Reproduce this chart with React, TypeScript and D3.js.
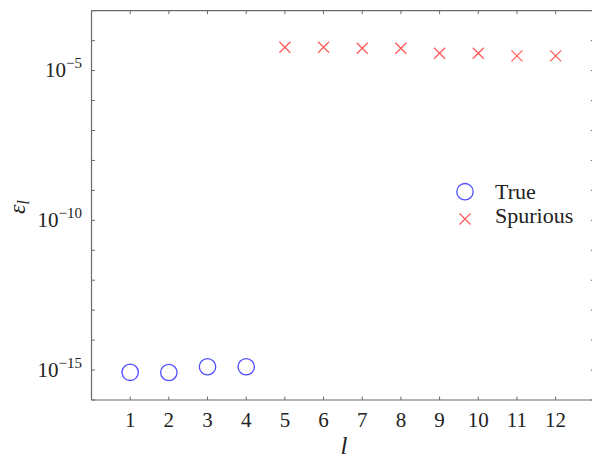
import React from "react";
import * as d3 from "d3";

const trueL = [1, 2, 3, 4];
const trueEps = [8.4e-16, 8.3e-16, 1.29e-15, 1.29e-15];
const spurL = [5, 6, 7, 8, 9, 10, 11, 12];
const spurEps = [6.0e-5, 6.0e-5, 5.6e-5, 5.6e-5, 3.8e-5, 3.8e-5, 3.1e-5, 3.1e-5];
const xTicks = [1, 2, 3, 4, 5, 6, 7, 8, 9, 10, 11, 12];
const yLabelExps = [-5, -10, -15];
const legendLabels = ["True", "Spurious"];

const W = 592, H = 458;
const left = 91.5, right = 594.3, top = 10.7, bottom = 400;
const FONT = "'Liberation Serif', 'DejaVu Serif', serif";
const AX = "#6a6a6a";
const BLUE = "#4d4dff";
const RED = "#ff5a5a";

export default function App() {
  const x = d3.scaleLinear().domain([0, 13]).range([left, right]);
  const y = d3.scaleLog().domain([1e-16, 1e-3]).range([bottom, top]);
  const decades = d3.range(-16, -2).map((e) => Math.pow(10, e));
  const tl = 3.5;
  const cross = (cx: number, cy: number, s: number, key: string) => (
    <g key={key} stroke={RED} strokeWidth={1.3}>
      <line x1={cx - s} y1={cy - s} x2={cx + s} y2={cy + s} />
      <line x1={cx - s} y1={cy + s} x2={cx + s} y2={cy - s} />
    </g>
  );
  return (
    <svg width={W} height={H} style={{ position: "absolute", left: 0, top: 0, background: "#fff" }} fontFamily={FONT}>
      <rect x={0} y={0} width={W} height={H} fill="#fff" />
      <g stroke={AX} strokeWidth={1.2} fill="none">
        <line x1={left} y1={top} x2={left} y2={bottom} />
        <line x1={left} y1={bottom} x2={right} y2={bottom} />
        <line x1={left} y1={top} x2={right} y2={top} />
        <line x1={right} y1={top} x2={right} y2={bottom} />
      </g>
      <g stroke={AX} strokeWidth={1}>
        {xTicks.map((t) => (
          <g key={"xt" + t}>
            <line x1={x(t)} x2={x(t)} y1={bottom} y2={bottom - tl} />
            <line x1={x(t)} x2={x(t)} y1={top} y2={top + tl} />
          </g>
        ))}
        {decades.map((d, i) => (
          <g key={"yt" + i}>
            <line x1={left} x2={left + tl} y1={y(d)} y2={y(d)} />
            <line x1={right} x2={right - tl} y1={y(d)} y2={y(d)} />
          </g>
        ))}
      </g>
      <g fontSize={21} fill="#222" textAnchor="middle">
        {xTicks.map((t) => (
          <text key={"xl" + t} x={x(t)} y={426.7}>{t}</text>
        ))}
      </g>
      <g fill="#222" textAnchor="end">
        {yLabelExps.map((e) => (
          <text key={"yl" + e} x={82} y={y(Math.pow(10, e)) + 6.5}>
            <tspan fontSize={21}>10</tspan>
            <tspan fontSize={15} dy={-9}>{"\u2212" + Math.abs(e)}</tspan>
          </text>
        ))}
      </g>
      <text x={344} y={454} fontSize={25} fontStyle="italic" textAnchor="middle" fill="#222">l</text>
      <g transform="translate(25,207) rotate(-90)" fill="#222">
        <text x={0} y={0} textAnchor="middle">
          <tspan fontSize={24} fontStyle="italic">ε</tspan>
          <tspan fontSize={17} fontStyle="italic" dy={4}>l</tspan>
        </text>
      </g>
      {trueL.map((l, i) => (
        <circle key={"c" + i} cx={x(l)} cy={y(trueEps[i])} r={8.2} fill="none" stroke={BLUE} strokeWidth={1.3} />
      ))}
      {spurL.map((l, i) => cross(x(l), y(spurEps[i]), 5.5, "s" + i))}
      <circle cx={465} cy={191.7} r={8.2} fill="none" stroke={BLUE} strokeWidth={1.3} />
      {cross(465, 219, 5.5, "lg")}
      <g fontSize={22} fill="#222">
        <text x={495} y={199}>{legendLabels[0]}</text>
        <text x={495} y={222.5}>{legendLabels[1]}</text>
      </g>
    </svg>
  );
}
